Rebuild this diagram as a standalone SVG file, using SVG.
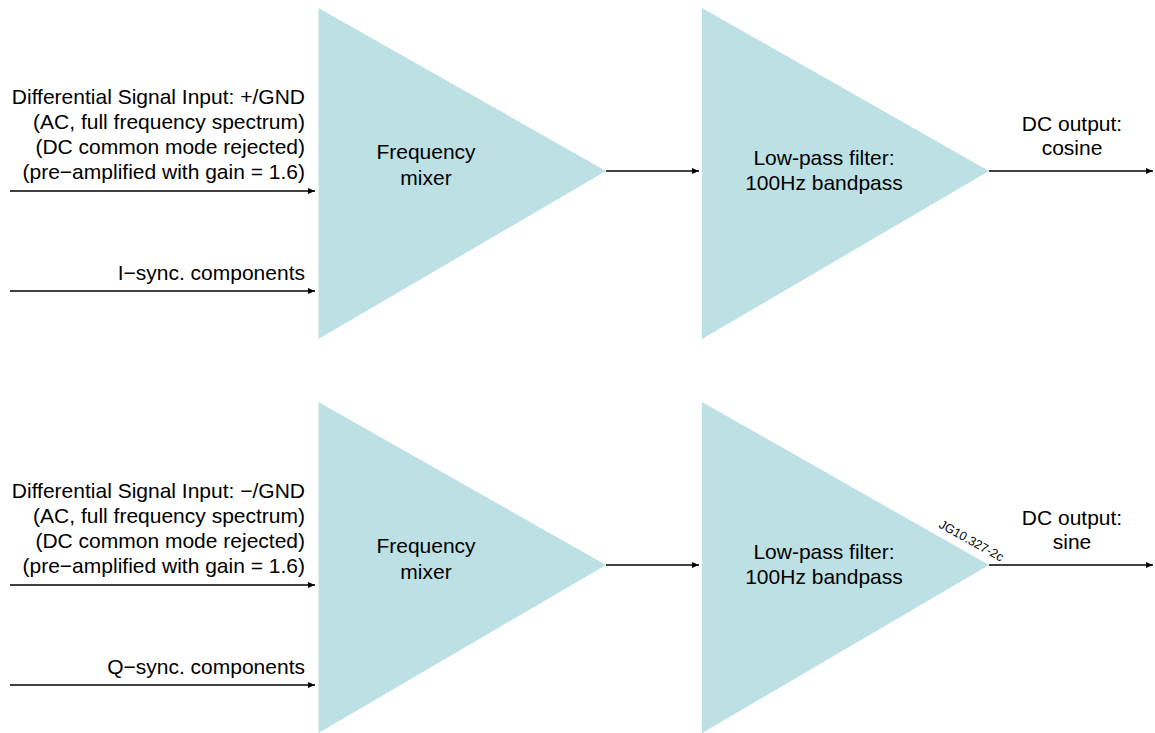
<svg xmlns="http://www.w3.org/2000/svg" width="1155" height="733" viewBox="0 0 1155 733">
<style>
text{font-family:"Liberation Sans",Arial,sans-serif;font-size:21px;fill:#000}
.r{text-anchor:end}
.c{text-anchor:middle}
.tri{fill:#bde0e4;stroke:none}
.w{stroke:#000;stroke-width:1.3;fill:none;marker-end:url(#ah)}
.tag{font-size:12.5px}
</style>
<defs>
<marker id="ah" markerUnits="userSpaceOnUse" markerWidth="8" markerHeight="6" refX="7" refY="3" orient="auto">
<path d="M0,0 L7,3 L0,6 z" fill="#000"/>
</marker>
</defs>
<rect width="1155" height="733" fill="#fff"/>

<g id="inputs-top">
<text class="r" x="305" y="104">Differential Signal Input: +/GND</text>
<text class="r" x="305" y="129">(AC, full frequency spectrum)</text>
<text class="r" x="305" y="154">(DC common mode rejected)</text>
<text class="r" x="305" y="179">(pre−amplified with gain = 1.6)</text>
<text class="r" x="305" y="280">I−sync. components</text>
</g>
<g id="mixer-top">
<polygon class="tri" points="318.5,8 606,171 318.5,339"/>
<text class="c" x="426" y="159">Frequency</text>
<text class="c" x="426" y="185">mixer</text>
</g>
<g id="filter-top">
<polygon class="tri" points="702,8 989,171 702,339"/>
<text class="c" x="824" y="165">Low-pass filter:</text>
<text class="c" x="824" y="190">100Hz bandpass</text>
</g>
<g id="output-top">
<text class="c" x="1072" y="131">DC output:</text>
<text class="c" x="1072" y="155">cosine</text>
</g>

<g id="inputs-bottom">
<text class="r" x="305" y="498">Differential Signal Input: −/GND</text>
<text class="r" x="305" y="523">(AC, full frequency spectrum)</text>
<text class="r" x="305" y="548">(DC common mode rejected)</text>
<text class="r" x="305" y="573">(pre−amplified with gain = 1.6)</text>
<text class="r" x="305" y="674">Q−sync. components</text>
</g>
<g id="mixer-bottom">
<polygon class="tri" points="318.5,402 606,565 318.5,733"/>
<text class="c" x="426" y="553">Frequency</text>
<text class="c" x="426" y="579">mixer</text>
</g>
<g id="filter-bottom">
<polygon class="tri" points="702,402 989,565 702,733"/>
<text class="c" x="824" y="559">Low-pass filter:</text>
<text class="c" x="824" y="584">100Hz bandpass</text>
</g>
<g id="output-bottom">
<text class="c" x="1072" y="525">DC output:</text>
<text class="c" x="1072" y="549">sine</text>
</g>
<text class="tag" transform="translate(938,527) rotate(29)">JG10.327-2c</text>

<g id="connectors">
<line class="w" x1="10" y1="191" x2="315" y2="191"/>
<line class="w" x1="10" y1="291" x2="315" y2="291"/>
<line class="w" x1="606" y1="171" x2="699" y2="171"/>
<line class="w" x1="989" y1="171" x2="1153" y2="171"/>
<line class="w" x1="10" y1="585" x2="315" y2="585"/>
<line class="w" x1="10" y1="685" x2="315" y2="685"/>
<line class="w" x1="606" y1="565" x2="699" y2="565"/>
<line class="w" x1="989" y1="565" x2="1153" y2="565"/>
</g>
</svg>
